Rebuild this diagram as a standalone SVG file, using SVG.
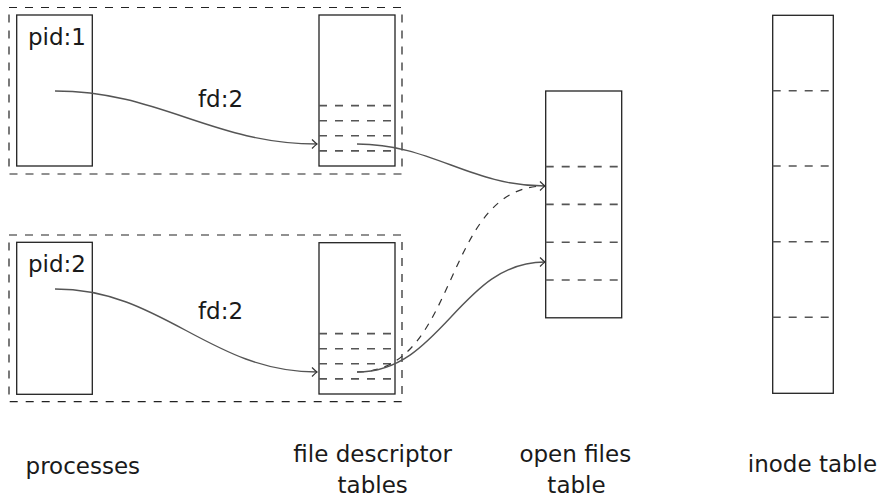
<svg xmlns="http://www.w3.org/2000/svg" width="883" height="502" viewBox="0 0 883 502">
<style>
.box{fill:none;stroke:#222;stroke-width:1.3}
.grp{fill:none;stroke:#222;stroke-width:1.2;stroke-dasharray:8 8}
.row{fill:none;stroke:#555;stroke-width:1.6;stroke-dasharray:8 8}
.link{fill:none;stroke:#555;stroke-width:1.4}
.dlink{fill:none;stroke:#333;stroke-width:1.2;stroke-dasharray:7 7}
text{font-family:"DejaVu Sans","Liberation Sans",sans-serif;font-size:23px;fill:#1a1a1a}
.mid{text-anchor:middle}
</style>
<defs>
<marker id="arr" markerUnits="userSpaceOnUse" markerWidth="12" markerHeight="12" refX="0" refY="0" viewBox="-7 -6 8 12" orient="auto">
<path d="M-5,-4.5 Q-1.5,-1 0,0 Q-1.5,1 -5,4.5" fill="none" stroke="#333" stroke-width="1.2"/>
</marker>
</defs>
<g id="group1">
<rect class="grp" x="9" y="7.5" width="393" height="166.5"/>
</g>
<g id="group2">
<rect class="grp" x="9" y="235" width="393" height="166.7"/>
</g>
<g id="pid1">
<rect class="box" x="16.7" y="15" width="75.6" height="151"/>
<text x="28" y="45">pid:1</text>
</g>
<g id="fdtable1">
<rect class="box" x="319" y="15" width="76" height="151"/>
<path class="row" d="M319,105.6H392M319,120.7H392M319,135.8H392M319,150.9H392"/>
</g>
<g id="pid2">
<rect class="box" x="16.7" y="242.3" width="75.6" height="152"/>
<text x="28" y="271.7">pid:2</text>
</g>
<g id="fdtable2">
<rect class="box" x="319" y="242.7" width="76" height="151.3"/>
<path class="row" d="M319,333.6H392M319,348.7H392M319,363.8H392M319,378.9H392"/>
</g>
<g id="openfiles">
<rect class="box" x="545.7" y="91" width="76" height="226.8"/>
<path class="row" d="M545.7,166.6H619M545.7,204.4H619M545.7,242.2H619M545.7,280H619"/>
</g>
<g id="inodes">
<rect class="box" x="772.7" y="15.3" width="60.6" height="378"/>
<path class="row" d="M772.7,90.7H830M772.7,166H830M772.7,241.7H830M772.7,317.3H830"/>
</g>
<g id="connectors">
<path class="link" d="M55,91 C159.6,91 212.4,144 317,144" marker-end="url(#arr)"/>
<path class="link" d="M357,144 C432.4,144 469.6,186 545,186" marker-end="url(#arr)"/>
<path class="link" d="M55,289 C162.6,289 209.4,372 317,372" marker-end="url(#arr)"/>
<path class="dlink" d="M357,372 C460.5,372 441.5,186 545,186"/>
<path class="link" d="M357,372 C442.3,372 459.7,262 545,262" marker-end="url(#arr)"/>
</g>
<g id="labels">
<text class="mid" x="220.5" y="107.3">fd:2</text>
<text class="mid" x="220.5" y="319.3">fd:2</text>
<text class="mid" x="82.8" y="474">processes</text>
<text class="mid" x="372.7" y="461.7">file descriptor</text>
<text class="mid" x="372.7" y="492.7">tables</text>
<text class="mid" x="575.3" y="461.7">open files</text>
<text class="mid" x="576.5" y="492.7">table</text>
<text class="mid" x="812.5" y="472">inode table</text>
</g>
</svg>
